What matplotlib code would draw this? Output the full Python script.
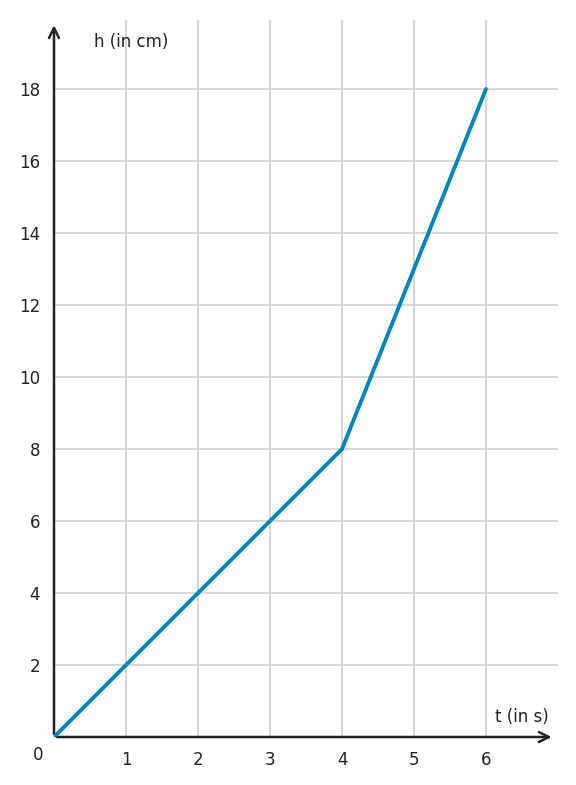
import matplotlib
matplotlib.use("Agg")
import matplotlib.pyplot as plt

t_vals = [0, 4, 6]
h_vals = [0, 8, 18]
x_ticks = [1, 2, 3, 4, 5, 6]
y_ticks = [2, 4, 6, 8, 10, 12, 14, 16, 18]

fig = plt.figure(figsize=(5.76, 7.85), dpi=100)
ax = fig.add_axes([54/576, 48/785, 504/576, 717/785])
ax.set_xlim(0, 7.0)
ax.set_ylim(0, 717/36)
for s in ax.spines.values():
    s.set_visible(False)
for x in x_ticks:
    ax.axvline(x, color="#d0d0d0", lw=1.2, zorder=1)
for y in y_ticks:
    ax.axhline(y, color="#d0d0d0", lw=1.2, zorder=1)
ax.set_xticks(x_ticks)
ax.set_yticks(y_ticks)
ax.tick_params(length=0, labelsize=12, colors="#222222", pad=10)
ax.annotate("", xy=(6.95, 0), xytext=(0, 0), xycoords="data",
            arrowprops=dict(arrowstyle="->", color="#222222", lw=1.8, mutation_scale=18), annotation_clip=False)
ax.annotate("", xy=(0, 19.85), xytext=(0, 0),
            arrowprops=dict(arrowstyle="->", color="#222222", lw=1.8, mutation_scale=18), annotation_clip=False)
ax.plot(t_vals, h_vals, color="#0086b8", lw=2.8, zorder=3, solid_capstyle="round")
ax.text(0.55, 19.3, "h (in cm)", fontsize=12, color="#222222", va="center")
ax.text(6.87, 0.55, "t (in s)", fontsize=12, color="#222222", ha="right", va="center")
ax.text(-0.22, -0.5, "0", fontsize=12, color="#222222", ha="center", va="center")
fig.savefig("out.png", dpi=100)
